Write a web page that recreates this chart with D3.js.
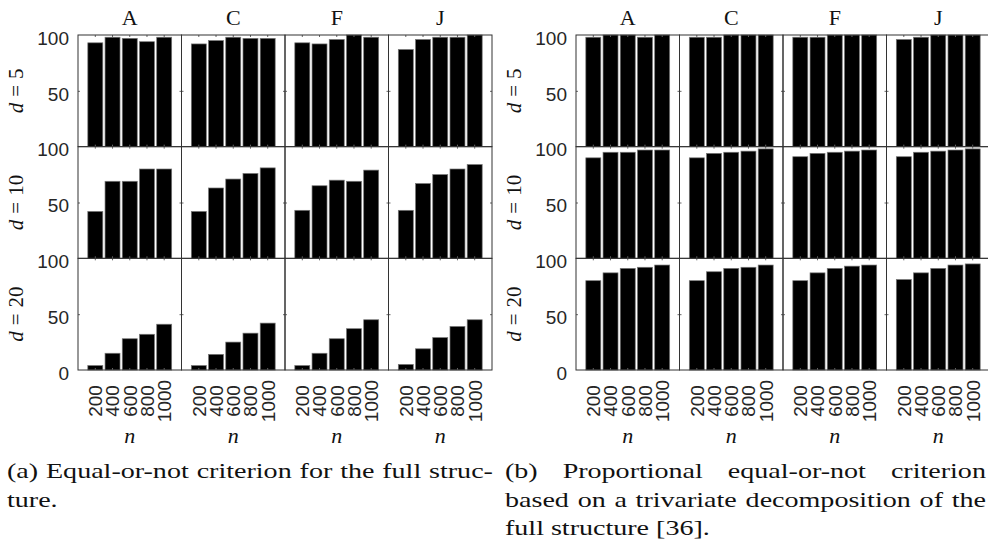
<!DOCTYPE html>
<html>
<head>
<meta charset="utf-8">
<script src="https://cdn.jsdelivr.net/npm/d3@7"></script>
<style>
  html, body { margin: 0; padding: 0; background: #fff; }
  svg { display: block; }
</style>
</head>
<body>
<svg id="fig" width="988" height="543"></svg>
<script>
// ---- data -------------------------------------------------------------
const columns = ["A", "C", "F", "J"];
const dValues = ["5", "10", "20"];
const nValues = ["200", "400", "600", "800", "1000"];
const yTickValues = [0, 50, 100];

// (a) equal-or-not criterion, full structure; one row per d = 5, 10, 20
const fullA = [[93, 98, 97, 94, 98], [42, 69, 69, 80, 80], [4, 15, 28, 32, 41]];
const fullC = [[92, 95, 98, 97, 97], [42, 63, 71, 76, 81], [4, 14, 25, 33, 42]];
const fullF = [[93, 92, 96, 100, 98], [43, 65, 70, 69, 79], [4, 15, 28, 37, 45]];
const fullJ = [[87, 96, 98, 98, 100], [43, 67, 75, 80, 84], [5, 19, 29, 39, 45]];

// (b) proportional equal-or-not criterion, trivariate decomposition
const propA = [[98, 100, 100, 98, 100], [90, 95, 95, 97, 97], [80, 87, 91, 92, 94]];
const propC = [[98, 98, 100, 100, 100], [90, 94, 95, 96, 98], [80, 88, 91, 92, 94]];
const propF = [[98, 98, 100, 100, 100], [91, 94, 95, 96, 97], [80, 87, 91, 93, 94]];
const propJ = [[96, 98, 100, 100, 100], [91, 95, 96, 97, 98], [81, 87, 91, 94, 95]];

const captionA = ["(a) Equal-or-not criterion for the full struc-", "ture."];
const captionB = ["(b) Proportional equal-or-not criterion",
                  "based on a trivariate decomposition of the",
                  "full structure [36]."];

// ---- layout -----------------------------------------------------------
const svg = d3.select("#fig");
const panelW = 103.5;
const rowH = 111.67;
const plotTop = 35;
const sans = "'Liberation Sans', Arial, Helvetica, sans-serif";
const serif = "'Liberation Serif', 'DejaVu Serif', serif";
const axisColor = "#333";
const textColor = "#262626";

const groups = [
  { left: 78,  series: [fullA, fullC, fullF, fullJ] },
  { left: 576, series: [propA, propC, propF, propJ] }
];

const x = d3.scaleBand().domain(nValues).range([0, panelW])
  .paddingInner(0.13).paddingOuter(0.57);
const y = d3.scaleLinear().domain([0, 100]).range([rowH, 0]);

function styleTicks(g) {
  g.select(".domain").remove();
  g.selectAll(".tick line").attr("stroke", "#666").attr("stroke-width", 1);
}

groups.forEach(grp => {
  columns.forEach((col, ci) => {
    const px = grp.left + ci * panelW;

    // column title
    svg.append("text")
      .attr("x", px + panelW / 2).attr("y", 25)
      .attr("text-anchor", "middle")
      .attr("font-family", serif).attr("font-size", 22)
      .attr("fill", "#111")
      .text(col);

    dValues.forEach((dv, ri) => {
      const py = plotTop + ri * rowH;
      const panel = svg.append("g").attr("transform", `translate(${px},${py})`);

      panel.selectAll("rect.bar")
        .data(grp.series[ci][ri])
        .join("rect")
        .attr("class", "bar")
        .attr("x", (d, i) => x(nValues[i]))
        .attr("y", d => y(d))
        .attr("width", x.bandwidth())
        .attr("height", d => y(0) - y(d))
        .attr("fill", "#000")
        .attr("stroke", "#777")
        .attr("stroke-width", 0.7);

      // inward ticks on all four sides
      panel.append("g")
        .call(d3.axisTop(x).tickSize(-2).tickFormat(""))
        .call(styleTicks);
      panel.append("g").attr("transform", `translate(0,${rowH})`)
        .call(d3.axisBottom(x).tickSize(-2).tickFormat(""))
        .call(styleTicks);
      panel.append("g")
        .call(d3.axisLeft(y).tickValues([50]).tickSize(-2).tickFormat(""))
        .call(styleTicks);
      panel.append("g").attr("transform", `translate(${panelW},0)`)
        .call(d3.axisRight(y).tickValues([50]).tickSize(-2).tickFormat(""))
        .call(styleTicks);

      // box
      panel.append("rect")
        .attr("x", 0).attr("y", 0).attr("width", panelW).attr("height", rowH)
        .attr("fill", "none").attr("stroke", axisColor).attr("stroke-width", 1);

      if (ci === 0) {
        const vals = ri === dValues.length - 1 ? yTickValues : yTickValues.filter(v => v > 0);
        const ax = panel.append("g")
          .call(d3.axisLeft(y).tickValues(vals).tickSize(0).tickPadding(9));
        ax.select(".domain").remove();
        ax.selectAll("text")
          .attr("font-family", sans).attr("font-size", 19)
          .attr("fill", textColor).attr("dy", "0.49em");

        // row label  d = value
        const rl = svg.append("text")
          .attr("transform", `translate(${grp.left - 55},${py + rowH / 2}) rotate(-90)`)
          .attr("text-anchor", "middle")
          .attr("font-family", serif).attr("font-size", 21)
          .attr("fill", "#111");
        rl.append("tspan").attr("font-style", "italic").text("d");
        rl.append("tspan").attr("dx", 6).text("=");
        rl.append("tspan").attr("dx", 6).text(dv);
      }

      if (ri === dValues.length - 1) {
        // rotated n tick labels
        panel.selectAll("text.nlab")
          .data(nValues)
          .join("text")
          .attr("class", "nlab")
          .attr("transform", d => `translate(${x(d) + x.bandwidth() / 2},${401 - py}) rotate(-90)`)
          .attr("text-anchor", "middle")
          .attr("dy", "0.36em")
          .attr("font-family", sans).attr("font-size", 19)
          .attr("fill", textColor)
          .text(d => d);

        svg.append("text")
          .attr("x", px + panelW / 2).attr("y", 443)
          .attr("text-anchor", "middle")
          .attr("font-family", serif).attr("font-style", "italic")
          .attr("font-size", 22).attr("fill", "#111")
          .text("n");
      }
    });
  });
});

// ---- captions (justified lines, last line ragged) ---------------------
const capSize = 21;
function natural(str) {
  const t = svg.append("text").attr("font-family", serif).attr("font-size", capSize).text(str);
  const w = t.node().getComputedTextLength();
  t.remove();
  return w;
}
const sx = 205 / natural(captionB[2]);

function drawCaption(lines, x0, x1, baselines) {
  lines.forEach((line, li) => {
    const yb = baselines[li];
    const last = li === lines.length - 1;
    if (last) {
      svg.append("text")
        .attr("transform", `translate(${x0},${yb}) scale(${sx},1)`)
        .attr("font-family", serif).attr("font-size", capSize).attr("fill", "#111")
        .text(line);
      return;
    }
    const words = line.split(" ");
    const widths = words.map(w => natural(w) * sx);
    const gap = (x1 - x0 - d3.sum(widths)) / (words.length - 1);
    let cx = x0;
    words.forEach((w, wi) => {
      svg.append("text")
        .attr("transform", `translate(${cx},${yb}) scale(${sx},1)`)
        .attr("font-family", serif).attr("font-size", capSize).attr("fill", "#111")
        .text(w);
      cx += widths[wi] + gap;
    });
  });
}
drawCaption(captionA, 7, 493, [478, 506.5]);
drawCaption(captionB, 505, 986, [478, 506.5, 535]);
</script>
</body>
</html>
